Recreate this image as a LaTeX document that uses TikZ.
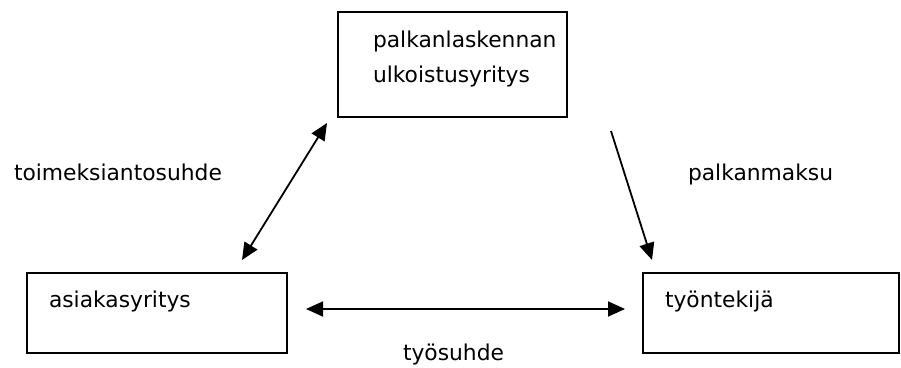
\documentclass[tikz,border=0pt]{standalone}
\usepackage{fontspec}
\setmainfont{DejaVu Sans}
\usetikzlibrary{arrows.meta}

\begin{document}
\begin{tikzpicture}[x = 1pt, y = -1pt, line width = 2pt,
								box/.style = {draw, inner sep = 0pt},
								txt/.style = {inner sep = 0pt, anchor = base west,
								font = \fontsize{21.8}{35}\selectfont},
								link/.style = {line width = 1.8pt,
								-{Triangle[length = 17pt, width = 15pt]}},
								both/.style = {line width = 1.8pt,
								{Triangle[length = 17pt, width = 15pt]}-{Triangle[length = 17pt, width = 15pt]}}]

				\useasboundingbox (0,0) rectangle (901,367);

				\node [box, minimum width = 229pt, minimum height = 105pt] (b_1) at (452.5,64.5) {};
				\node [box, minimum width = 260pt, minimum height = 80pt] (b_2) at (157,313) {};
				\node [box, minimum width = 256pt, minimum height = 80pt] (b_3) at (771,313) {};

				\node [txt] (t_1) at (372,47) {palkanlaskennan};
				\node [txt] (t_2) at (372,82) {ulkoistusyritys};
				\node [txt] (t_3) at (48,307) {asiakasyritys};
				\node [txt] (t_4) at (664,307) {työntekijä};

				\node [txt] (l_1) at (13,180) {toimeksiantosuhde};
				\node [txt] (l_2) at (687,180) {palkanmaksu};
				\node [txt] (l_3) at (402,360) {työsuhde};

				\coordinate (c_1) at (327,123);
				\coordinate (c_2) at (242,260);
				\coordinate (c_3) at (611,131);
				\coordinate (c_4) at (652,260);
				\coordinate (c_5) at (306,309);
				\coordinate (c_6) at (625,309);

				\draw [both] (c_2) -- (c_1);
				\draw [link] (c_3) -- (c_4);
				\draw [both] (c_5) -- (c_6);
			\end{tikzpicture}
\end{document}
